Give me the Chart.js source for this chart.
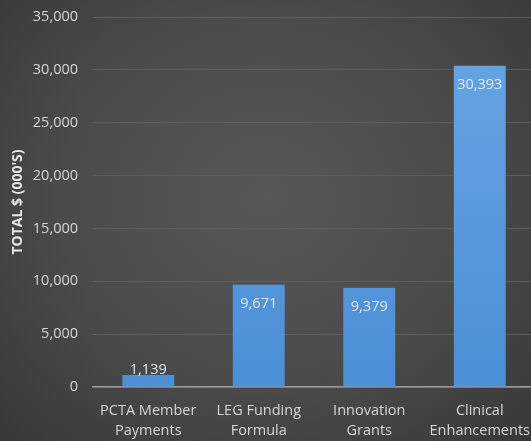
<!DOCTYPE html>
<html>
<head>
<meta charset="utf-8">
<script src="https://cdn.jsdelivr.net/npm/chart.js@4/dist/chart.umd.min.js"></script>
<style>
  html, body { margin: 0; padding: 0; overflow: hidden; }
  body {
    width: 531px; height: 441px;
    background: radial-gradient(ellipse at 50% 45%, #585858 0%, #4a4a4a 55%, #383838 100%);
  }
  #wrap { position: relative; width: 535px; height: 441px; }
</style>
</head>
<body>
<div id="wrap"><canvas id="myChart"></canvas></div>
<script>
// chart data
var categories = [["PCTA Member", "Payments"], ["LEG Funding", "Formula"], ["Innovation", "Grants"], ["Clinical", "Enhancements"]];
var totals = [1139, 9671, 9379, 30393];
var yTicks = [0, 5000, 10000, 15000, 20000, 25000, 30000, 35000];

var textColor = "#d6d6d6";
var fontName = "'Open Sans', sans-serif";

function barGradient(context) {
    var chart = context.chart;
    var area = chart.chartArea;
    if (!area) return "#5b9bd5";
    var g = chart.ctx.createLinearGradient(0, area.top, 0, area.bottom);
    g.addColorStop(0, "#68a6e4");
    g.addColorStop(1, "#4b8fd6");
    return g;
}

// draws the value labels on the bars
var valueLabels = {
    id: "valueLabels",
    afterDatasetsDraw: function(chart) {
        var ctx = chart.ctx;
        var meta = chart.getDatasetMeta(0);
        ctx.save();
        ctx.font = "14.5px " + fontName;
        ctx.fillStyle = "#dde6f0";
        ctx.textAlign = "center";
        meta.data.forEach(function(bar, i) {
            var txt = totals[i].toLocaleString("en-US");
            var h = bar.base - bar.y;
            if (h < 30) {
                ctx.textBaseline = "bottom";
                ctx.fillText(txt, bar.x, bar.y + 2);
            } else {
                ctx.textBaseline = "middle";
                ctx.fillText(txt, bar.x, bar.y + 19);
            }
        });
        ctx.restore();
    }
};

new Chart("myChart", {
    type: "bar",
    data: {
        labels: categories,
        datasets: [{
            data: totals,
            backgroundColor: barGradient,
            categoryPercentage: 1,
            barPercentage: 0.47
        }]
    },
    options: {
        responsive: true,
        maintainAspectRatio: false,
        animation: false,
        layout: { padding: { top: 17, left: 10, right: 0, bottom: 0 } },
        plugins: {
            legend: { display: false },
            tooltip: { enabled: false }
        },
        scales: {
            x: {
                grid: { display: false, drawTicks: false },
                border: { color: "#9a9a9a", width: 1.5 },
                ticks: {
                    color: textColor,
                    font: { family: fontName, size: 14.5, lineHeight: 1.38 },
                    padding: 14,
                    maxRotation: 0,
                    autoSkip: false
                },
                afterFit: function(axis) {
                    axis.height = 54;
                    axis.paddingLeft = 0;
                    axis.paddingRight = 0;
                }
            },
            y: {
                min: 0,
                max: 35000,
                afterBuildTicks: function(axis) {
                    axis.ticks = yTicks.map(function(v) { return { value: v }; });
                },
                grid: { color: "#5e5e5e", drawTicks: false },
                border: { display: false },
                ticks: {
                    color: textColor,
                    font: { family: fontName, size: 14.5 },
                    padding: 15,
                    callback: function(v) { return v.toLocaleString("en-US"); }
                },
                title: {
                    display: true,
                    text: "TOTAL $ (000'S)",
                    color: "#e6e6e6",
                    font: { family: fontName, size: 14, weight: "bold" },
                    padding: { top: 0, bottom: 3 }
                },
                afterFit: function(axis) {
                    axis.width = 83;
                    axis.paddingTop = 0;
                    axis.paddingBottom = 0;
                }
            }
        }
    },
    plugins: [valueLabels]
});
</script>
</body>
</html>
